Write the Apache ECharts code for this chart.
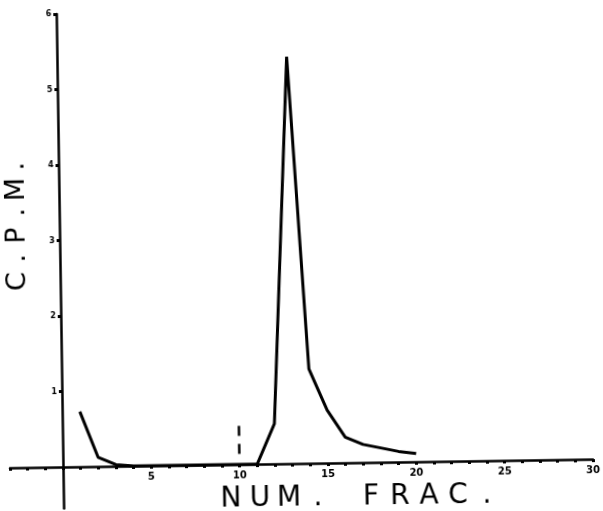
<!DOCTYPE html>
<html>
<head>
<meta charset="utf-8">
<script src="https://cdn.jsdelivr.net/npm/echarts@6/dist/echarts.min.js"></script>
<style>
html,body{margin:0;padding:0;background:#fff;overflow:hidden;}
#chart{width:603px;height:511px;transform-origin:63px 467px;transform:rotate(-0.85deg);}
</style>
</head>
<body>
<div id="chart"></div>
<script>
// Fraction number (x) and counts per minute (y)
var fractions = [1, 2, 3, 4, 5, 6, 7, 8, 9, 10, 11, 12, 13, 14, 15, 16, 17, 18, 19, 20];
var cpm = [0.73, 0.12, 0.02, 0, 0, 0, 0, 0, 0, 0, 0, 0.53, 5.39, 1.25, 0.70, 0.34, 0.24, 0.19, 0.14, 0.11];
var xTickLabels = [5, 10, 15, 20, 25, 30];
var yTickValues = [1, 2, 3, 4, 5, 6];
var yTickLabels = [1, 2, 3, 4, 5, 6];
var markerFraction = 10;
var markerRange = [0.51, 0.14];

var points = fractions.map(function (f, i) { return [f, cpm[i]]; });

function cells(str) {
  return str.split('').map(function (ch) {
    if (ch === ' ') return '{s| }';
    return '{c|' + ch + '}';
  }).join('');
}

var chart = echarts.init(document.getElementById('chart'));
chart.setOption({
  animation: false,
  backgroundColor: '#ffffff',
  grid: { left: 10, right: 10, top: 14, bottom: 2.5, containLabel: false, outerBoundsMode: 'none' },
  xAxis: {
    type: 'value',
    position: 'bottom',
    offset: -41.5,
    min: -3, max: 30, interval: 1,
    axisLine: { onZero: false, lineStyle: { color: '#000', width: 2.5 } },
    axisTick: { show: true, length: 3, lineStyle: { color: '#000', width: 3 } },
    splitLine: { show: false },
    axisLabel: {
      margin: 6,
      color: '#000', fontSize: 10, fontWeight: 'bold', fontFamily: 'DejaVu Sans',
      formatter: function (v) { return xTickLabels.indexOf(v) >= 0 ? String(v) : ''; }
    },
    name: cells('NUM. FRAC.'),
    nameLocation: 'middle',
    nameGap: 15,
    nameTextStyle: {
      padding: [0, 0, 0, 114],
      rich: {
        c: { width: 29, align: 'center', fontSize: 28, fontFamily: 'DejaVu Sans', color: '#000', fontWeight: 'normal' },
        s: { width: 24, fontSize: 28, fontFamily: 'DejaVu Sans' }
      }
    }
  },
  yAxis: {
    type: 'value',
    position: 'left',
    offset: -53,
    min: -0.55, max: 6,
    axisLine: { onZero: false, lineStyle: { color: '#000', width: 2.5 } },
    axisTick: { show: true, length: 3, customValues: yTickValues, lineStyle: { color: '#000', width: 3 } },
    splitLine: { show: false },
    axisLabel: {
      customValues: yTickLabels,
      margin: 5,
      color: '#000', fontSize: 8, fontWeight: 'bold', fontFamily: 'DejaVu Sans'
    },
    name: cells('C.P.M.'),
    nameLocation: 'middle',
    nameGap: 29,
    nameRotate: 90,
    nameTextStyle: {
      padding: [0, 0, 0, 76],
      rich: {
        c: { width: 23, align: 'center', fontSize: 27, fontFamily: 'DejaVu Sans', color: '#000', fontWeight: 'normal' }
      }
    }
  },
  series: [{
    type: 'line',
    data: points,
    symbol: 'none',
    lineStyle: { color: '#000', width: 3 },
    markLine: {
      silent: true,
      symbol: ['none', 'none'],
      label: { show: false },
      lineStyle: { color: '#000', width: 2.5, type: [10, 8] },
      data: [[{ coord: [markerFraction, markerRange[0]] }, { coord: [markerFraction, markerRange[1]] }]]
    }
  }]
});
</script>
</body>
</html>
